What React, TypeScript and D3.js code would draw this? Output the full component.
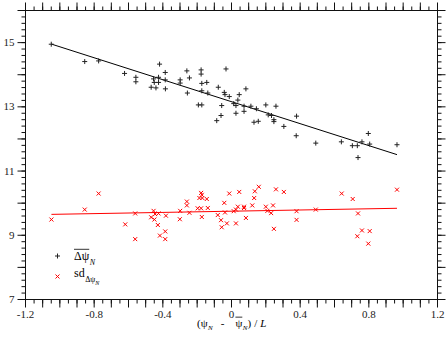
import React, { useEffect, useRef } from "react";
import * as d3 from "d3";

// mean of delta psi_N vs (psi_N - mean psi_N)/L
const meanDeltaPsi: [number, number][] = [
  [-1.05, 14.95], [-0.855, 14.41], [-0.774, 14.43], [-0.623, 14.04], [-0.557, 13.92],
  [-0.557, 13.78], [-0.419, 14.33], [-0.386, 14.07], [-0.454, 13.87], [-0.425, 13.92],
  [-0.45, 13.76], [-0.425, 13.76], [-0.386, 13.84], [-0.468, 13.61], [-0.44, 13.59],
  [-0.385, 13.56], [-0.299, 13.84], [-0.299, 13.74], [-0.26, 14.12], [-0.245, 13.9],
  [-0.257, 13.43], [-0.177, 14.15], [-0.177, 14.02], [-0.173, 13.73], [-0.144, 13.76],
  [-0.173, 13.5], [-0.138, 13.43], [-0.193, 13.06], [-0.173, 13.06], [-0.032, 14.18],
  [-0.077, 13.61], [-0.042, 13.45], [-0.038, 13.38], [-0.013, 13.32], [0.037, 13.21],
  [0.013, 13.1], [0.045, 13.38], [-0.057, 13.04], [-0.061, 12.73], [-0.086, 12.57],
  [0.026, 13.04], [0.026, 12.8], [0.084, 13.56], [0.073, 13.02], [0.073, 12.86],
  [0.113, 13.02], [0.145, 12.94], [0.131, 12.52], [0.156, 12.55], [0.2, 13.06],
  [0.259, 13.02], [0.214, 12.75], [0.233, 12.73], [0.247, 12.6], [0.247, 12.54],
  [0.305, 12.39], [0.379, 12.71], [0.377, 12.1], [0.491, 11.87], [0.64, 11.91],
  [0.704, 11.79], [0.733, 11.79], [0.76, 11.91], [0.797, 12.17], [0.805, 11.84],
  [0.737, 11.42], [0.964, 11.82],
];

// standard deviation of delta psi_N
const sdDeltaPsi: [number, number][] = [
  [-1.049, 9.49], [-0.855, 9.8], [-0.774, 10.3], [-0.619, 9.34], [-0.561, 9.68],
  [-0.561, 8.88], [-0.454, 9.76], [-0.445, 9.66], [-0.425, 9.68], [-0.468, 9.56],
  [-0.449, 9.49], [-0.382, 9.61], [-0.429, 9.32], [-0.386, 9.12], [-0.417, 8.99],
  [-0.386, 8.88], [-0.299, 9.76], [-0.301, 9.5], [-0.245, 9.7], [-0.26, 10.05],
  [-0.26, 9.93], [-0.177, 10.32], [-0.173, 10.26], [-0.187, 10.16], [-0.17, 10.16],
  [-0.144, 10.13], [-0.197, 9.84], [-0.177, 9.84], [-0.138, 9.85], [-0.173, 9.57],
  [-0.042, 10.01], [-0.013, 10.3], [0.045, 10.35], [-0.038, 9.71], [-0.08, 9.63],
  [-0.061, 9.47], [-0.027, 9.37], [0.026, 9.37], [-0.057, 9.25], [0.013, 9.75],
  [0.037, 9.89], [0.026, 9.8], [0.073, 9.89], [0.073, 9.85], [0.084, 9.54],
  [0.121, 9.93], [0.132, 10.16], [0.136, 10.37], [0.159, 10.51], [0.2, 9.89],
  [0.209, 9.76], [0.231, 9.69], [0.242, 9.93], [0.247, 9.2], [0.259, 10.43],
  [0.305, 10.35], [0.379, 9.75], [0.379, 9.48], [0.491, 9.8], [0.642, 10.3],
  [0.706, 10.13], [0.737, 9.68], [0.733, 8.97], [0.76, 9.15], [0.805, 9.13],
  [0.797, 8.74], [0.964, 10.42],
];

// linear fits: [mean, sd]
const fitIntercepts = [13.16, 9.75];
const fitSlopes = [-1.71, 0.094];

const xTickLabels = [-1.2, -0.8, -0.4, 0, 0.4, 0.8, 1.2];
const yTickLabels = [7, 9, 11, 13, 15];

const FONT = "'Liberation Serif', 'Times New Roman', serif";

type Part = { t: string; size?: number; dy?: number; dx?: number; italic?: boolean; over?: boolean };

function mathText(g: any, x0: number, y0: number, parts: Part[], base: number) {
  let x = x0;
  parts.forEach((p) => {
    const size = p.size || base;
    x += p.dx || 0;
    const y = y0 + (p.dy || 0);
    const t = g
      .append("text")
      .attr("x", x)
      .attr("y", y)
      .style("font-family", FONT)
      .attr("font-size", size)
      .attr("font-style", p.italic ? "italic" : "normal")
      .attr("fill", "#000")
      .text(p.t);
    const w = (t.node() as SVGTextElement).getComputedTextLength();
    if (p.over) {
      g.append("line")
        .attr("x1", x)
        .attr("x2", x + w)
        .attr("y1", y - size * 0.85)
        .attr("y2", y - size * 0.85)
        .attr("stroke", "#000")
        .attr("stroke-width", 0.8);
    }
    x += w;
  });
}

export default function App() {
  const ref = useRef<SVGSVGElement>(null);

  useEffect(() => {
    const svg = d3.select(ref.current);
    svg.selectAll("*").remove();

    const x = d3.scaleLinear().domain([-1.2, 1.2]).range([25.5, 437.5]);
    const y = d3.scaleLinear().domain([7, 16]).range([299.5, 10.5]);

    const minorX = d3.range(-24, 25).map((i) => i * 0.05);
    const majorX = d3.range(-12, 13).map((i) => i * 0.1);
    const minorY = d3.range(35, 81).map((i) => i * 0.2);
    const majorY = d3.range(7, 17);

    const axes = svg.append("g").attr("color", "#111");
    const tickAxis = (gen: any, tr: string) =>
      axes
        .append("g")
        .attr("transform", tr)
        .call(gen.offset(0))
        .call((g: any) => g.select(".domain").remove());

    tickAxis(d3.axisBottom(x).tickValues(minorX).tickSize(4).tickFormat(() => ""), "translate(0,299.5)");
    tickAxis(d3.axisBottom(x).tickValues(majorX).tickSize(8).tickFormat(() => ""), "translate(0,299.5)");
    tickAxis(d3.axisTop(x).tickValues(minorX).tickSize(4).tickFormat(() => ""), "translate(0,10.5)");
    tickAxis(d3.axisTop(x).tickValues(majorX).tickSize(8).tickFormat(() => ""), "translate(0,10.5)");
    tickAxis(d3.axisLeft(y).tickValues(minorY).tickSize(4).tickFormat(() => ""), "translate(25.5,0)");
    tickAxis(d3.axisLeft(y).tickValues(majorY).tickSize(8).tickFormat(() => ""), "translate(25.5,0)");
    tickAxis(d3.axisRight(y).tickValues(minorY).tickSize(4).tickFormat(() => ""), "translate(437.5,0)");
    tickAxis(d3.axisRight(y).tickValues(majorY).tickSize(8).tickFormat(() => ""), "translate(437.5,0)");

    const bl = tickAxis(
      d3.axisBottom(x).tickValues(xTickLabels).tickSize(0).tickPadding(11).tickFormat((d: any) => String(d)),
      "translate(0,299.5)"
    );
    const ll = tickAxis(
      d3.axisLeft(y).tickValues(yTickLabels).tickSize(0).tickPadding(11).tickFormat((d: any) => String(d)),
      "translate(25.5,0)"
    );
    [bl, ll].forEach((g: any) =>
      g.selectAll("text").style("font-family", FONT).style("font-size", "11px").attr("fill", "#222")
    );

    // frame
    svg
      .append("rect")
      .attr("x", x(-1.2))
      .attr("y", y(16))
      .attr("width", x(1.2) - x(-1.2))
      .attr("height", y(7) - y(16))
      .attr("fill", "none")
      .attr("stroke", "#111")
      .attr("stroke-width", 1);

    // fitted lines
    const series = [meanDeltaPsi, sdDeltaPsi];
    const colors = ["#000", "#ff0000"];
    series.forEach((data, i) => {
      const ext = d3.extent(data, (d) => d[0]) as [number, number];
      const line = d3
        .line<number>()
        .x((v) => x(v))
        .y((v) => y(fitIntercepts[i] + fitSlopes[i] * v));
      svg
        .append("path")
        .attr("d", line(ext))
        .attr("fill", "none")
        .attr("stroke", colors[i])
        .attr("stroke-width", 1);
    });

    const plus = "M-2.5,0H2.5M0,-2.5V2.5";
    const cross = "M-2,-2L2,2M-2,2L2,-2";

    svg
      .append("g")
      .selectAll("path")
      .data(meanDeltaPsi)
      .enter()
      .append("path")
      .attr("transform", (d) => `translate(${x(d[0])},${y(d[1])})`)
      .attr("d", plus)
      .attr("stroke", "#222")
      .attr("stroke-width", 1);

    svg
      .append("g")
      .selectAll("path")
      .data(sdDeltaPsi)
      .enter()
      .append("path")
      .attr("transform", (d) => `translate(${x(d[0])},${y(d[1])})`)
      .attr("d", cross)
      .attr("stroke", "#ff0000")
      .attr("stroke-width", 1);

    // legend
    const leg = svg.append("g");
    leg
      .append("path")
      .attr("transform", "translate(57.5,256)")
      .attr("d", plus)
      .attr("stroke", "#222")
      .attr("stroke-width", 1);
    leg
      .append("path")
      .attr("transform", "translate(57.5,276.5)")
      .attr("d", cross)
      .attr("stroke", "#ff0000")
      .attr("stroke-width", 1);
    mathText(leg, 74, 259.5, [{ t: "Δψ", over: true }, { t: "N", size: 8, italic: true, dy: 5, dx: 0.5 }], 12);
    mathText(
      leg,
      74,
      276.7,
      [{ t: "sd" }, { t: "Δψ", size: 8, dy: 5, dx: 0.5 }, { t: "N", size: 6, italic: true, dy: 8 }],
      12
    );

    // x axis title
    mathText(
      svg.append("g"),
      197,
      326.5,
      [
        { t: "(ψ" },
        { t: "N", size: 7, italic: true, dy: 3, dx: 0.5 },
        { t: "-", dx: 8 },
        { t: "ψ", over: true, dx: 11 },
        { t: "N", size: 7, italic: true, dy: 3, dx: 0.5 },
        { t: ")" },
        { t: "/", dx: 3 },
        { t: "L", italic: true, dx: 3 },
      ],
      11
    );
  }, []);

  return (
    <svg
      ref={ref}
      width={447}
      height={340}
      style={{ position: "absolute", left: 0, top: 0, background: "#fff" }}
    />
  );
}
